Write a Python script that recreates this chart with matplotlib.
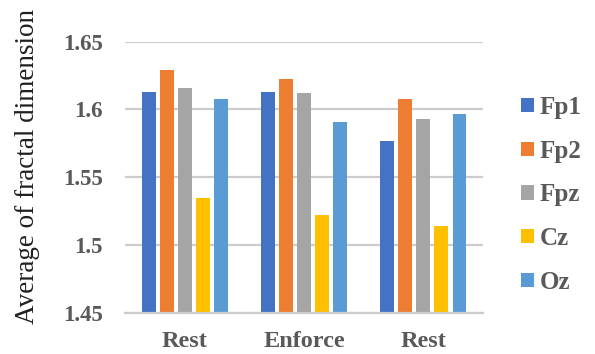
import numpy as np
import matplotlib
matplotlib.use("Agg")
import matplotlib.pyplot as plt

# Average fractal dimension per electrode and condition
conditions = ["Rest", "Enforce", "Rest"]
channels = ["Fp1", "Fp2", "Fpz", "Cz", "Oz"]
fp1 = [1.613, 1.613, 1.577]
fp2 = [1.629, 1.6225, 1.6075]
fpz = [1.6155, 1.612, 1.593]
cz = [1.535, 1.522, 1.514]
oz = [1.6075, 1.591, 1.597]
yticks = [1.45, 1.5, 1.55, 1.6, 1.65]
ytick_labels = ["1.45", "1.5", "1.55", "1.6", "1.65"]

series = [fp1, fp2, fpz, cz, oz]
colors = ["#4472C4", "#ED7D31", "#A5A5A5", "#FFC000", "#5B9BD5"]

serif = ["Liberation Serif", "DejaVu Serif"]
label_grey = "#595959"

fig = plt.figure(figsize=(5.95, 3.54), dpi=100)
ax = fig.add_axes([0.210, 0.1167, 0.602, 0.7655])

x = np.arange(len(conditions))
step = 0.151
width = 0.117
for i, (vals, col, name) in enumerate(zip(series, colors, channels)):
    ax.bar(x + (i - 2) * step, np.array(vals) - yticks[0], width=width,
           bottom=yticks[0], color=col, label=name, zorder=3)

ax.set_xlim(-0.5, len(conditions) - 0.5)
ax.set_ylim(yticks[0], yticks[-1])
ax.set_yticks(yticks)
ax.set_yticklabels(ytick_labels)
ax.set_xticks(x)
ax.set_xticklabels(conditions)

for t in ax.get_yticklabels() + ax.get_xticklabels():
    t.set_fontfamily(serif)
    t.set_fontweight("bold")
    t.set_color(label_grey)
for t in ax.get_yticklabels():
    t.set_fontsize(16.5)
for t in ax.get_xticklabels():
    t.set_fontsize(17.5)

ax.tick_params(axis="y", length=0, pad=16)
ax.tick_params(axis="x", length=0, pad=13)

ax.yaxis.grid(True, color="#cccccc", linewidth=1.6, zorder=0)
ax.set_axisbelow(True)
for side in ["top", "right", "left"]:
    ax.spines[side].set_visible(False)
ax.spines["bottom"].set_color("#cccccc")
ax.spines["bottom"].set_linewidth(1.6)
ax.spines["bottom"].set_zorder(4)

ax.set_ylabel("Average of fractal dimension", fontfamily=serif, fontsize=19.5,
              color="#202020")
ax.yaxis.set_label_coords(-0.237, 0.54)

leg = ax.legend(loc="center left", bbox_to_anchor=(1.043, 0.435), frameon=False,
                prop={"family": serif, "weight": "bold", "size": 18},
                handlelength=0.5, handleheight=0.5, handletextpad=0.25,
                labelspacing=0.83)
for t in leg.get_texts():
    t.set_color(label_grey)

fig.savefig("out.png", dpi=100)
